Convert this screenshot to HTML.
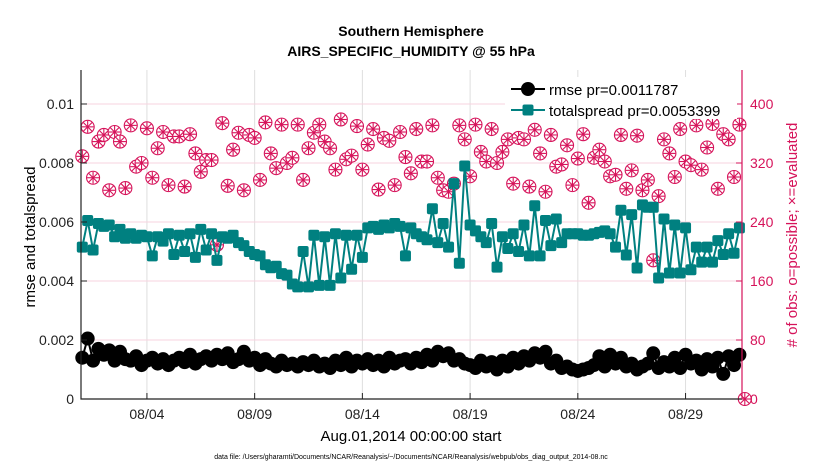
<!DOCTYPE html>
<html><head><meta charset="utf-8"><style>
body{margin:0;background:#fff;}
svg{display:block;font-family:"Liberation Sans",Arial,sans-serif;}
</style></head><body>
<svg id="chart" width="830" height="470" xmlns="http://www.w3.org/2000/svg">
<rect width="830" height="470" fill="#fff"/>
<text x="411" y="36" text-anchor="middle" font-size="14" font-weight="bold">Southern Hemisphere</text>
<text x="411" y="56" text-anchor="middle" font-size="14" font-weight="bold">AIRS_SPECIFIC_HUMIDITY @ 55 hPa</text>
<g id="grid"></g>
<g id="series"></g>
<g id="axes"></g>
<text transform="translate(35,237) rotate(-90)" text-anchor="middle" font-size="15">rmse and totalspread</text>
<text transform="translate(797,235) rotate(-90)" text-anchor="middle" font-size="15" fill="#d6135a"># of obs: o=possible; ×=evaluated</text>
<text x="411" y="441" text-anchor="middle" font-size="15">Aug.01,2014 00:00:00 start</text>
<text x="411" y="459" text-anchor="middle" font-size="7">data file: /Users/gharamti/Documents/NCAR/Reanalysis/~/Documents/NCAR/Reanalysis/webpub/obs_diag_output_2014-08.nc</text>
<g>
<rect x="505" y="77" width="232" height="42" fill="#fff"/>
<line x1="511" y1="89" x2="545" y2="89" stroke="#000" stroke-width="2"/>
<circle cx="528" cy="89" r="7" fill="#000"/>
<text x="549" y="95" font-size="15">rmse pr=0.0011787</text>
<line x1="511" y1="110" x2="545" y2="110" stroke="#008080" stroke-width="2"/>
<rect x="522.5" y="104.5" width="11" height="11" rx="2" fill="#008080"/>
<text x="549" y="116" font-size="15">totalspread pr=0.0053399</text>
</g>
</svg>
<script>
const rmse=[1.4,2.05,1.3,1.7,1.5,1.65,1.3,1.6,1.35,1.3,
1.45,1.15,1.3,1.4,1.2,1.35,1.15,1.3,1.4,1.25,
1.5,1.2,1.35,1.45,1.3,1.5,1.35,1.55,1.25,1.35,
1.6,1.3,1.4,1.15,1.35,1.2,1.1,1.3,1.15,1.2,
1.1,1.25,1.15,1.3,1.1,1.2,1.05,1.3,1.15,1.4,
1.1,1.3,1.2,1.35,1.15,1.3,1.1,1.4,1.2,1.3,
1.35,1.2,1.4,1.25,1.5,1.3,1.6,1.45,1.55,1.3,
1.35,1.2,1.15,1.05,1.3,1.1,1.25,1.0,1.3,1.1,
1.4,1.2,1.45,1.3,1.55,1.4,1.6,1.2,1.3,1.05,
1.1,1.0,0.95,1.0,1.05,1.15,1.45,1.1,1.5,1.2,
1.4,1.1,1.2,1.0,1.1,1.2,1.55,1.05,1.25,1.1,
1.4,1.05,1.5,1.2,1.3,1.0,1.35,1.1,1.4,0.85,
1.45,1.15,1.5];
const spread=[5.15,6.05,5.05,5.95,5.85,5.9,5.5,5.75,5.45,5.6,
5.45,5.55,5.5,4.85,5.5,5.35,5.6,4.9,5.55,5.0,
5.6,4.8,5.75,5.05,5.6,4.7,5.5,5.45,5.55,5.3,
5.2,5.0,4.9,4.85,4.55,4.45,4.5,4.25,4.2,3.9,
3.8,5.0,3.8,5.55,3.85,5.5,3.85,5.6,4.1,5.55,
4.4,5.55,4.8,5.8,5.85,5.75,5.9,5.8,5.95,5.85,
4.85,5.8,5.6,5.5,5.4,6.45,5.3,5.95,5.15,7.3,
4.6,7.9,5.9,5.7,5.5,5.3,5.95,4.47,5.5,5.1,
5.6,5.0,5.9,4.85,6.55,4.85,6.05,5.2,6.1,5.3,
5.6,5.6,5.6,5.55,5.55,5.6,5.65,5.7,5.6,5.15,
6.4,4.88,6.25,4.44,6.58,6.5,6.5,4.1,6.1,4.27,
5.9,4.27,5.8,4.38,5.15,4.64,5.15,4.64,5.37,4.9,
5.6,4.94,5.8];
const obsCounts=[329,369,300,349,358,283,362,349,286,371,
315,320,367,300,340,362,290,356,356,288,
359,333,308,324,324,209,374,289,338,361,
283,358,354,297,375,333,313,372,320,327,
372,297,340,361,372,349,340,311,379,325,
330,370,311,345,366,284,354,350,290,362,
328,306,366,322,322,371,300,283,281,292,
371,352,302,372,335,322,366,320,335,352,
292,354,352,288,365,333,281,358,315,318,
344,290,326,359,266,327,338,322,302,304,
358,285,310,357,283,297,188,275,352,333,
301,366,322,317,371,311,341,373,285,359,
352,301,372,0];
const leftTicks=[0,0.002,0.004,0.006,0.008,0.01];
const leftTickLabels=["0","0.002","0.004","0.006","0.008","0.01"];
const rightTicks=[0,80,160,240,320,400];
const xTickDays=[3,8,13,18,23,28];
const xTickLabels=["08/04","08/09","08/14","08/19","08/24","08/29"];
const stepDays=0.25;

const L=81,R=742,T=70,B=399;
const xMin=-0.06,xMax=30.62,yMax=0.011152,rMax=yMax*40000;
const X=d=>L+(d-xMin)/(xMax-xMin)*(R-L);
const Y=v=>B-v/yMax*(B-T);
const YR=c=>B-c/rMax*(B-T);
const NS="http://www.w3.org/2000/svg";
function mk(tag,attrs,parent){const e=document.createElementNS(NS,tag);for(const k in attrs)e.setAttribute(k,attrs[k]);parent.appendChild(e);return e;}
const grid=document.getElementById('grid'),ser=document.getElementById('series'),axes=document.getElementById('axes');

xTickDays.forEach((d,i)=>{
 const g=mk('line',{x1:X(d),x2:X(d),y1:T,y2:B,stroke:'#dedede','stroke-width':1},grid);
 
 
 const t=mk('line',{x1:X(d),x2:X(d),y1:B,y2:B-6,stroke:'#222','stroke-width':1},axes);
 
 
 const lb=mk('text',{x:X(d),y:B+20,'text-anchor':'middle','font-size':14,fill:'#222'},axes);
 lb.textContent=xTickLabels[i];
 
 
});
leftTicks.forEach((v,i)=>{
 if(v>0){const g=mk('line',{x1:L,x2:R,y1:Y(v),y2:Y(v),stroke:'#f7d3df','stroke-width':1},grid);
 
 }
 const t=mk('line',{x1:L,x2:L+6,y1:Y(v),y2:Y(v),stroke:'#222'},axes);
 
 
 const lb=mk('text',{x:L-7,y:Y(v)+5,'text-anchor':'end','font-size':14,fill:'#222'},axes);
 lb.textContent=leftTickLabels[i];
 
 
});
rightTicks.forEach(c=>{
 const t=mk('line',{x1:R-6,x2:R,y1:YR(c),y2:YR(c),stroke:'#d6135a'},axes);
 
 
 const lb=mk('text',{x:R+8,y:YR(c)+5,'font-size':14,fill:'#d6135a'},axes);
 lb.textContent=String(c);
 
 
});
const ax=mk('path',{d:`M${L},${T}V${B}H${R}`,fill:'none',stroke:'#222','stroke-width':1.2},axes);


const axr=mk('line',{x1:R,x2:R,y1:T,y2:B,stroke:'#d6135a','stroke-width':1.2},axes);



obsCounts.forEach((c,k)=>{
 const cx=X(k*stepDays),cy=YR(c);
 const g=mk('g',{stroke:'#d6135a','stroke-width':1.1,fill:'none'},ser);
 
 
 mk('circle',{cx:cx,cy:cy,r:6.5,fill:'#fff'},g);
 for(let a=0;a<4;a++){const an=a*Math.PI/4;mk('line',{x1:cx-6*Math.cos(an),y1:cy-6*Math.sin(an),x2:cx+6*Math.cos(an),y2:cy+6*Math.sin(an)},g);}
});
const sp=mk('polyline',{points:spread.map((v,k)=>X(k*stepDays)+','+Y(v/1000)).join(' '),fill:'none',stroke:'#008080','stroke-width':2},ser);


spread.forEach((v,k)=>{
 const r=mk('rect',{x:X(k*stepDays)-5.5,y:Y(v/1000)-5.5,width:11,height:11,rx:2,fill:'#008080'},ser);
 
 
});
const rl=mk('polyline',{points:rmse.map((v,k)=>X(k*stepDays)+','+Y(v/1000)).join(' '),fill:'none',stroke:'#000','stroke-width':2},ser);


rmse.forEach((v,k)=>{
 const c=mk('circle',{cx:X(k*stepDays),cy:Y(v/1000),r:7,fill:'#000'},ser);
 
 
});
</script>
</body></html>
